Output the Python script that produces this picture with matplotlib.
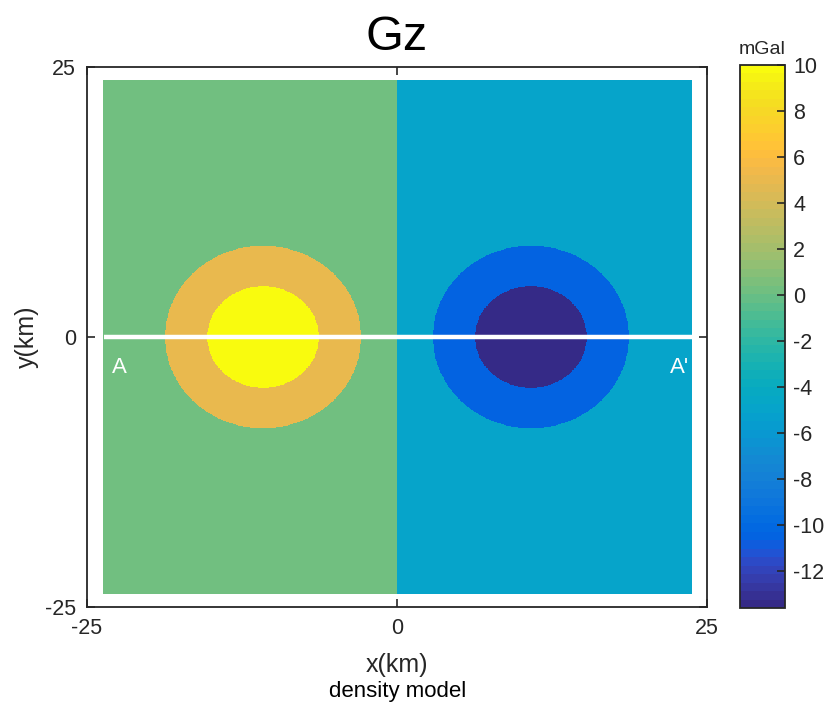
import numpy as np
import matplotlib
matplotlib.use("Agg")
import matplotlib.pyplot as plt
from matplotlib.colors import ListedColormap

plt.rcParams['font.family'] = ['Liberation Sans', 'DejaVu Sans']
plt.rcParams['axes.unicode_minus'] = False

# MATLAB parula colormap (64 entries)
parula_rgb = [
    [0.2081, 0.1663, 0.5292], [0.2116, 0.1898, 0.5777], [0.2123, 0.2138, 0.6270], [0.2081, 0.2386, 0.6771],
    [0.1959, 0.2645, 0.7279], [0.1707, 0.2919, 0.7792], [0.1253, 0.3242, 0.8303], [0.0591, 0.3598, 0.8683],
    [0.0117, 0.3875, 0.8820], [0.0060, 0.4086, 0.8828], [0.0165, 0.4266, 0.8786], [0.0329, 0.4430, 0.8720],
    [0.0498, 0.4586, 0.8641], [0.0629, 0.4737, 0.8554], [0.0723, 0.4887, 0.8467], [0.0779, 0.5040, 0.8384],
    [0.0793, 0.5200, 0.8312], [0.0749, 0.5375, 0.8263], [0.0641, 0.5570, 0.8240], [0.0488, 0.5772, 0.8228],
    [0.0343, 0.5966, 0.8199], [0.0265, 0.6137, 0.8135], [0.0239, 0.6287, 0.8038], [0.0231, 0.6418, 0.7913],
    [0.0228, 0.6535, 0.7768], [0.0267, 0.6642, 0.7607], [0.0384, 0.6743, 0.7436], [0.0590, 0.6838, 0.7254],
    [0.0843, 0.6928, 0.7062], [0.1133, 0.7015, 0.6859], [0.1453, 0.7098, 0.6646], [0.1801, 0.7177, 0.6424],
    [0.2178, 0.7250, 0.6193], [0.2586, 0.7317, 0.5954], [0.3022, 0.7376, 0.5712], [0.3482, 0.7424, 0.5473],
    [0.3953, 0.7459, 0.5244], [0.4420, 0.7481, 0.5033], [0.4871, 0.7491, 0.4840], [0.5300, 0.7491, 0.4661],
    [0.5709, 0.7485, 0.4494], [0.6099, 0.7473, 0.4337], [0.6473, 0.7456, 0.4188], [0.6834, 0.7435, 0.4044],
    [0.7184, 0.7411, 0.3905], [0.7525, 0.7384, 0.3768], [0.7858, 0.7356, 0.3633], [0.8185, 0.7327, 0.3498],
    [0.8507, 0.7299, 0.3360], [0.8824, 0.7274, 0.3217], [0.9139, 0.7258, 0.3063], [0.9450, 0.7261, 0.2886],
    [0.9739, 0.7314, 0.2666], [0.9938, 0.7455, 0.2403], [0.9990, 0.7653, 0.2164], [0.9955, 0.7861, 0.1967],
    [0.9880, 0.8066, 0.1794], [0.9789, 0.8271, 0.1633], [0.9697, 0.8481, 0.1475], [0.9626, 0.8705, 0.1309],
    [0.9589, 0.8949, 0.1132], [0.9598, 0.9218, 0.0948], [0.9661, 0.9514, 0.0755], [0.9763, 0.9831, 0.0538],
]
parula = ListedColormap(parula_rgb, name='parula')

# ---- Model data (km, mGal) ----
model_extent = [-23.75, 23.75]          # grid extent in x and y
half_values = [0.3, -5.0]               # background Gz: left half (x<0), right half (x>=0)
body_cx = [-10.8, 10.8]                 # anomaly centres (x)
body_cy = [0.0, 0.0]                    # anomaly centres (y)
outer_rx = [7.9, 7.9]
outer_ry = [8.45, 8.45]
inner_rx = [4.5, 4.5]
inner_ry = [4.7, 4.7]
outer_values = [5.2, -10.6]
inner_values = [10.0, -13.6]
clim = [-13.6, 10.0]

profile_x = [-23.6, 23.8]
profile_y = [0.0, 0.0]
profile_labels = ['A', "A'"]
profile_label_x = [-22.4, 22.8]
profile_label_y = [-2.8, -2.8]

# ---- Build grid ----
step = 0.05
edges = np.arange(model_extent[0], model_extent[1] + step / 2, step)
centers = 0.5 * (edges[:-1] + edges[1:])
X, Y = np.meshgrid(centers, centers)
Z = np.where(X < 0, half_values[0], half_values[1])
for i in range(len(body_cx)):
    ro = ((X - body_cx[i]) / outer_rx[i]) ** 2 + ((Y - body_cy[i]) / outer_ry[i]) ** 2
    ri = ((X - body_cx[i]) / inner_rx[i]) ** 2 + ((Y - body_cy[i]) / inner_ry[i]) ** 2
    Z = np.where(ro <= 1, outer_values[i], Z)
    Z = np.where(ri <= 1, inner_values[i], Z)

fig = plt.figure(figsize=(8.3, 7.05), dpi=100)
ax = fig.add_axes([87 / 830, 1 - 607 / 705, 620 / 830, 540 / 705])
mesh = ax.pcolormesh(edges, edges, Z, cmap=parula, vmin=clim[0], vmax=clim[1],
                     shading='flat', rasterized=True)

ax.plot(profile_x, profile_y, color='white', lw=3.2, solid_capstyle='butt')
for lab, lx, ly in zip(profile_labels, profile_label_x, profile_label_y):
    ax.text(lx, ly, lab, color='white', fontsize=16, ha='center', va='center')

ax.set_xlim(-25, 25)
ax.set_ylim(-25, 25)
ax.set_xticks([-25, 0, 25])
ax.set_yticks([-25, 0, 25])
ax.set_xticklabels(['-25', '0', '25'])
ax.set_yticklabels(['-25', '0', '25'])
axcol = '#262626'
ax.tick_params(direction='in', length=6, width=1.2, colors=axcol, labelsize=15.5,
               top=True, right=True, labelcolor=axcol, pad=8)
for s in ax.spines.values():
    s.set_linewidth(1.3)
    s.set_color(axcol)

ax.set_title('Gz', fontsize=35, pad=12, color='black')
ax.set_xlabel('x(km)', fontsize=18, color=axcol, labelpad=10)
ax.set_ylabel('y(km)', fontsize=18, color=axcol, labelpad=4)
fig.text(398 / 830, 1 - 691 / 705, 'density model', fontsize=16, ha='center', va='center', color='black')

cax = fig.add_axes([740 / 830, 1 - 608 / 705, 45 / 830, 543 / 705])
cb = fig.colorbar(mesh, cax=cax)
cb.set_ticks(np.arange(-12, 11, 2))
cb.ax.minorticks_off()
cb.ax.tick_params(direction='in', length=6, width=1.2, colors=axcol, labelsize=15.5, pad=6)
cb.outline.set_linewidth(1.3)
cb.outline.set_edgecolor(axcol)
cb.ax.set_title('mGal', fontsize=14, color=axcol, pad=8)

fig.savefig('out.png', dpi=100)
